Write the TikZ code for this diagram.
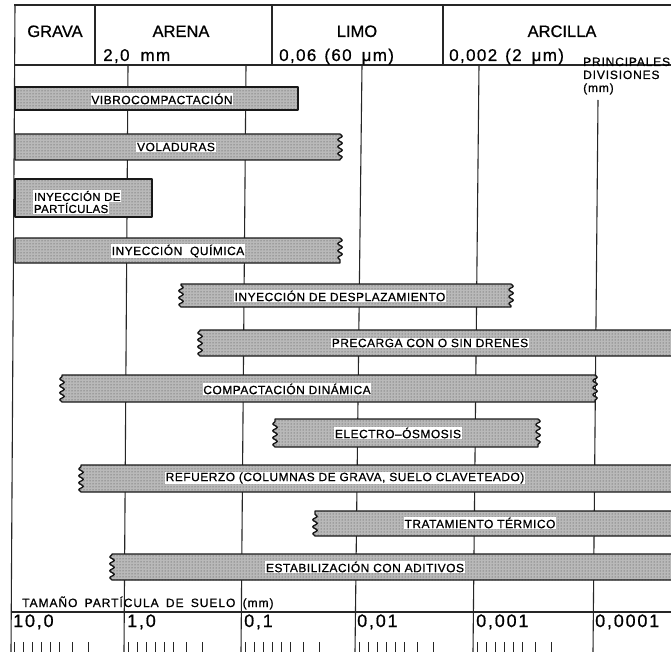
\documentclass[tikz,border=0pt]{standalone}
\usepackage{fontspec}
\setmainfont{Liberation Sans}[FakeBold=0.7]
\usetikzlibrary{decorations.pathmorphing,patterns}
\tikzset{
  gridline/.style={line width=1.1pt, draw=black!85},
  hframe/.style={line width=1.4pt, draw=black!85},
  soil/.style={preaction={fill=gray!55}, preaction={pattern=dots, pattern color=black!75}, draw=black!90, line width=1.4pt, line join=round},
  wv/.style={decoration={snake, segment length=7pt, amplitude=2.2pt}},
  st/.style={decoration=lineto},
  lbl/.style={fill=white, inner sep=0.8pt, font=\fontsize{12}{13}\selectfont\addfontfeatures{LetterSpace=4}},
  hdr/.style={font=\fontsize{16.5}{18}\selectfont, anchor=base, inner sep=0pt},
  val/.style={font=\fontsize{17}{19}\selectfont\addfontfeatures{LetterSpace=8}, anchor=base west, inner sep=0pt},
  smalltxt/.style={font=\fontsize{12}{13}\selectfont\addfontfeatures{LetterSpace=7}, anchor=base west, inner sep=0pt},
  axisnum/.style={font=\fontsize{18}{20}\selectfont\addfontfeatures{LetterSpace=10}, anchor=base west, inner sep=0pt},
  tick/.style={line width=1pt, draw=black!85},
}
\newcommand\soilbar[6]{%
  \path[soil] (#1,#3) -- (#2,#3) decorate[#6]{-- (#2,#4)} -- (#1,#4) decorate[#5]{-- (#1,#3)} -- cycle;}
\newcommand\decticks[1]{%
  \foreach \o in {4,13,22,31,40,49,62,78}{\draw[tick] (#1+\o,642) -- (#1+\o,652);}}
\begin{document}
\begin{tikzpicture}[x=1pt,y=-1pt]
\useasboundingbox (0,0) rectangle (671,652);
\clip (0,0) rectangle (671,652);
\fill[white] (0,0) rectangle (671,652);
% header frame
\draw[hframe, line width=2.3pt] (14,5) -- (671,5);
\draw[hframe] (14,65) -- (671,65);
\draw[gridline] (95,5) -- (95,65);
\draw[gridline] (272,5) -- (272,65);
\draw[gridline] (443,5) -- (443,65);
% grid
\draw[gridline] (15,5) -- (11,652);
\draw[gridline] (128,65) -- (124,652);
\draw[gridline] (246,65) -- (241,652);
\draw[gridline] (362,65) -- (355,652);
\draw[gridline] (479,65) -- (473,652);
\draw[gridline] (598,100) -- (593,652);
\draw[gridline] (11,612) -- (671,612);
% header text
\node[hdr] (grava) at (55,37) {GRAVA};
\node[hdr] (arena) at (181,37) {ARENA};
\node[hdr] (limo) at (357,37) {LIMO};
\node[hdr] (arcilla) at (562,37) {ARCILLA};
\node[val] (v20) at (103,61) {2,0\hspace{11pt}mm};
\node[val] (v006) at (279,61) {0,06\hspace{8pt}(60\hspace{10pt}μm)};
\node[val] (v0002) at (449,61) {0,002\hspace{8pt}(2\hspace{10pt}μm)};
\node[smalltxt] (pr1) at (583,66) {PRINCIPALES};
\node[smalltxt] (pr2) at (583,79) {DIVISIONES};
\node[smalltxt] (pr3) at (583,92) {(mm)};
% bars
\soilbar{15}{298}{87}{110}{st}{st}
\soilbar{15}{340}{134}{160}{st}{wv}
\soilbar{15}{152}{179}{217}{st}{st}
\soilbar{15}{340}{238}{263}{st}{wv}
\soilbar{181}{511}{284}{307}{wv}{wv}
\soilbar{200}{690}{330}{356}{wv}{st}
\soilbar{62}{595}{375}{402}{wv}{wv}
\soilbar{275}{538}{419}{447}{wv}{wv}
\soilbar{81}{690}{465}{492}{wv}{st}
\soilbar{315}{690}{511}{536}{wv}{st}
\soilbar{112}{690}{554}{580}{wv}{st}
% bar labels
\node[lbl] (b1) at (162,99) {VIBROCOMPACTACIÓN};
\node[lbl] (b2) at (176,147) {VOLADURAS};
\node[lbl, anchor=west, font=\fontsize{11.5}{12}\selectfont\addfontfeatures{LetterSpace=3}] (b3a) at (33,196) {INYECCIÓN DE};
\node[lbl, anchor=west, font=\fontsize{11.5}{12}\selectfont\addfontfeatures{LetterSpace=3}] (b3b) at (33,208) {PARTÍCULAS};
\node[lbl] (b4) at (178,251) {INYECCIÓN\hspace{4pt} QUÍMICA};
\node[lbl] (b5) at (340,296) {INYECCIÓN DE DESPLAZAMIENTO};
\node[lbl] (b6) at (430,343) {PRECARGA CON O SIN DRENES};
\node[lbl] (b7) at (287,389) {COMPACTACIÓN DINÁMICA};
\node[lbl] (b8) at (398,433) {ELECTRO--ÓSMOSIS};
\node[lbl] (b9) at (345,478) {REFUERZO (COLUMNAS DE GRAVA, SUELO CLAVETEADO)};
\node[lbl] (b10) at (480,523) {TRATAMIENTO TÉRMICO};
\node[lbl] (b11) at (365,567) {ESTABILIZACIÓN CON ADITIVOS};
% axis
\node[smalltxt, font=\fontsize{12}{13}\selectfont\addfontfeatures{LetterSpace=8}] (tam) at (22,607) {TAMAÑO\hspace{3pt} PARTÍCULA\hspace{3pt} DE\hspace{3pt} SUELO\hspace{3pt} (mm)};
\node[axisnum] (n1) at (13,627) {10,0};
\node[axisnum] (n2) at (127,627) {1,0};
\node[axisnum] (n3) at (244,627) {0,1};
\node[axisnum] (n4) at (357,627) {0,01};
\node[axisnum] (n5) at (476,627) {0,001};
\node[axisnum] (n6) at (595,627) {0,0001};
\decticks{10}
\decticks{124}
\decticks{241}
\decticks{355}
\decticks{473}
\end{tikzpicture}
\end{document}
